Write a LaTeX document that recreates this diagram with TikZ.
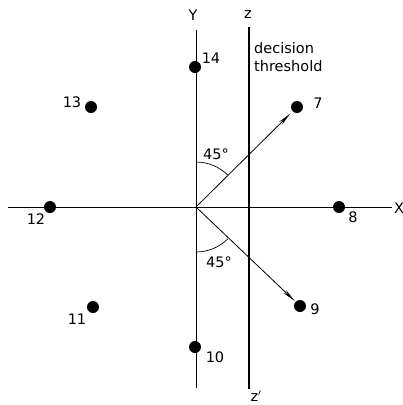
\documentclass[tikz,border=0pt]{standalone}
\usepackage{fontspec}
\setmainfont{DejaVu Sans}
\usetikzlibrary{arrows.meta}
\begin{document}
\begin{tikzpicture}[x=1pt,y=-1pt,
  dot/.style={circle,fill=black,inner sep=0pt,minimum size=12pt},
  lbl/.style={inner sep=0pt,font=\fontsize{14.5}{17}\selectfont},
  axis/.style={line width=0.8pt},
  thr/.style={line width=2.4pt},
  vec/.style={line width=0.8pt,-{Stealth[length=14pt,width=4pt]}},
  ang/.style={line width=0.7pt}]
\useasboundingbox (0,0) rectangle (403,405);
% axes
\coordinate (O) at (196,207);
\coordinate (Ytop) at (196,30);
\coordinate (Ybot) at (196,388);
\coordinate (Xl) at (8,207);
\coordinate (Xr) at (392,207);
\coordinate (Ztop) at (249,27);
\coordinate (Zbot) at (249,389);
\draw[axis] (Ytop) -- (Ybot);
\draw[axis] (Xl) -- (Xr);
\draw[thr] (Ztop) -- (Zbot);
% points
\node[dot] (p14) at (195,67) {};
\node[dot] (p13) at (91,107) {};
\node[dot] (p7) at (297,107) {};
\node[dot] (p12) at (50,207) {};
\node[dot] (p8) at (339,207) {};
\node[dot] (p11) at (93,307) {};
\node[dot] (p9) at (300,306) {};
\node[dot] (p10) at (195,347) {};
% vectors
\draw[vec,shorten >=3pt] (O) -- (p7);
\draw[vec,shorten >=1pt] (O) -- (p9);
% angle arcs
\draw[ang] (O) ++(90:45) arc[start angle=90,end angle=45,radius=45];
\draw[ang] (O) ++(-90:45) arc[start angle=-90,end angle=-45,radius=45];
% labels
\node[lbl] (lY) at (193,15) {Y};
\node[lbl] (lz) at (248,15) {z};
\node[lbl] (lX) at (399,208) {X};
\node[lbl] (lzp) at (256,396) {z$'$};
\node[lbl,anchor=north west,align=left] (ldt) at (254,42) {decision\\[1pt]threshold};
\node[lbl] (l14) at (211,58) {14};
\node[lbl] (l13) at (72,102) {13};
\node[lbl] (l7) at (318,103) {7};
\node[lbl] (l12) at (36,219) {12};
\node[lbl] (l8) at (353,217) {8};
\node[lbl] (l11) at (77,319) {11};
\node[lbl] (l9) at (315,309) {9};
\node[lbl] (l10) at (215,357) {10};
\node[lbl] (a1) at (216,154) {45°};
\node[lbl] (a2) at (219,262) {45°};
\end{tikzpicture}
\end{document}
